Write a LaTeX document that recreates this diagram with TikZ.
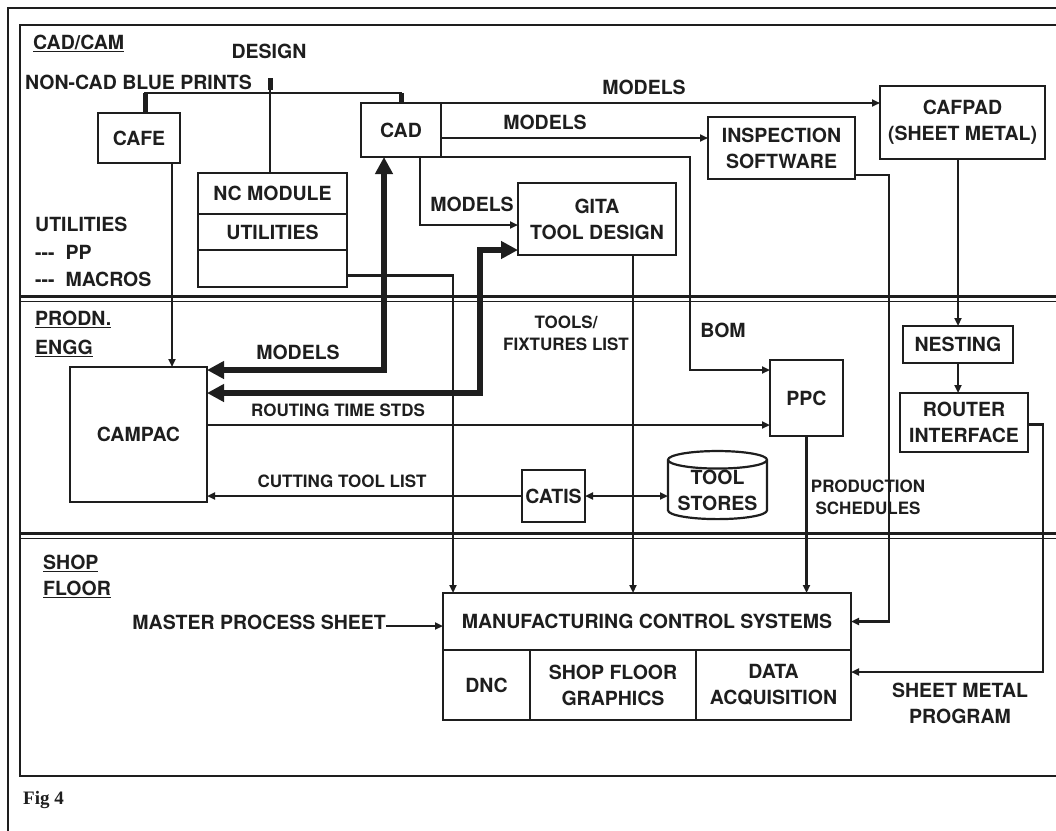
\documentclass[tikz,border=0pt]{standalone}
\usepackage{fontspec}
\setmainfont{TeX Gyre Heros}
\newfontfamily\capfont{Liberation Serif}
\usepackage{tikz}
\usetikzlibrary{arrows.meta,shapes.geometric,positioning}
\definecolor{ink}{HTML}{1E1E1E}
\tikzset{
  unitbox/.style={
    draw=ink,
    line width=2.2pt,
    inner sep=0pt,
    outer sep=0pt,
    align=center,
    text=ink,
    font=\bfseries\fontsize{19.5}{26}\selectfont
  },
  cellbox/.style={
    unitbox
  },
  flowlabel/.style={
    text=ink,
    inner sep=0pt,
    align=center,
    font=\bfseries\fontsize{19.5}{26}\selectfont
  },
  smalllabel/.style={
    flowlabel,
    font=\bfseries\fontsize{17}{22}\selectfont
  },
  lanelabel/.style={
    flowlabel,
    anchor=west,
    align=left
  },
  flowarrow/.style={
    -{Triangle[length=8pt,width=7pt]},
    line width=2.2pt,
    draw=ink
  },
  twoway/.style={
    {Triangle[length=8pt,width=7pt]}-{Triangle[length=8pt,width=7pt]},
    line width=2.2pt,
    draw=ink
  },
  heavyarrow/.style={
    {Triangle[length=17pt,width=17pt]}-{Triangle[length=17pt,width=17pt]},
    line width=5.5pt,
    draw=ink
  },
  plainline/.style={
    line width=2.2pt,
    draw=ink
  },
  stubline/.style={
    line width=5pt,
    draw=ink
  },
  frameline/.style={
    line width=2.6pt,
    draw=ink
  },
  laneline/.style={
    line width=3pt,
    draw=ink
  }
}

\begin{document}
\begin{tikzpicture}[x=1pt, y=-1pt]
    \clip (0,0) rectangle (1056,830);
    \fill[white] (0,0) rectangle (1056,830);

    % frames and lanes
    \draw[frameline] (8,840) -- (8,8) -- (1070,8);
    \draw[frameline] (1070,25) -- (20,25) -- (20,776) -- (1070,776);
    \draw[laneline] (20,296) -- (1070,296);
    \draw[line width=1.2pt, draw=ink] (20,301.5) -- (1070,301.5);
    \draw[laneline] (20,533) -- (1070,533);
    \draw[line width=1.2pt, draw=ink] (20,538.5) -- (1070,538.5);

    \node[lanelabel] (lanecad) at (33,43) {\underline{CAD/CAM}};
    \node[lanelabel] (laneprod) at (35,334) {\underline{PRODN.}\\[3pt]\underline{ENGG}};
    \node[lanelabel] (laneshop) at (43,576) {\underline{SHOP}\\\underline{FLOOR}};

    % CAD/CAM
    \node[unitbox, minimum width=82pt, minimum height=50pt] (cafe) at (139,138) {CAFE};
    \node[unitbox, minimum width=149pt, minimum height=41pt] (ncmod) at (272.5,193.5) {NC MODULE};
    \node[cellbox, anchor=north, minimum width=149pt, minimum height=36pt] (ncutil) at (ncmod.south) {UTILITIES};
    \node[cellbox, anchor=north, minimum width=149pt, minimum height=37pt] (ncspare) at (ncutil.south) {};
    \node[unitbox, minimum width=80pt, minimum height=54pt] (cad) at (401,130) {CAD};
    \node[unitbox, minimum width=158pt, minimum height=72pt] (gita) at (597,219) {GITA\\TOOL DESIGN};
    \node[unitbox, minimum width=147pt, minimum height=62pt] (insp) at (781.5,148) {INSPECTION\\SOFTWARE};
    \node[unitbox, minimum width=165pt, minimum height=73pt] (cafpad) at (962.5,122.5) {CAFPAD\\(SHEET METAL)};

    \node[flowlabel] (design) at (269,51) {DESIGN};
    \node[lanelabel] (blueprints) at (25,82) {NON-CAD BLUE PRINTS};
    \node[lanelabel, font=\bfseries\fontsize{19.5}{27.5}\selectfont] (utils) at (35,252) {UTILITIES\\-{}-{}-\ \ PP\\-{}-{}-\ \ MACROS};

    % PRODN. ENGG
    \node[unitbox, minimum width=137pt, minimum height=135pt] (campac) at (138.5,434.5) {CAMPAC};
    \node[unitbox, minimum width=73pt, minimum height=76pt] (ppc) at (806.5,398) {PPC};
    \node[unitbox, minimum width=63pt, minimum height=52pt] (catis) at (553.5,496) {CATIS};
    \node[unitbox, cylinder, shape border rotate=90, aspect=0.22, minimum width=99pt, minimum height=64pt] (stores) at (717.5,490) {TOOL\\STORES};
    \node[unitbox, minimum width=110pt, minimum height=37pt] (nesting) at (958,344.5) {NESTING};
    \node[unitbox, minimum width=128pt, minimum height=59pt] (router) at (964,422.5) {ROUTER\\INTERFACE};

    % SHOP FLOOR
    \node[flowlabel, anchor=east] (mps) at (386,622) {MASTER PROCESS SHEET};
    \node[unitbox, minimum width=408pt, minimum height=57pt] (mcs) at (647,621.5) {MANUFACTURING CONTROL SYSTEMS};
    \node[cellbox, anchor=north west, minimum width=87pt, minimum height=70pt] (dnc) at (mcs.south west) {DNC};
    \node[cellbox, anchor=north west, minimum width=166pt, minimum height=70pt] (sfg) at (dnc.north east) {SHOP FLOOR\\GRAPHICS};
    \node[cellbox, anchor=north west, minimum width=155pt, minimum height=70pt] (daq) at (sfg.north east) {DATA\\ACQUISITION};

    % labels on connectors
    \node[flowlabel] (modelsa) at (644,87) {MODELS};
    \node[flowlabel] (modelsb) at (545,122) {MODELS};
    \node[flowlabel] (modelsc) at (472,204) {MODELS};
    \node[flowlabel] (modelsd) at (298,352) {MODELS};
    \node[flowlabel] (bom) at (723,330) {BOM};
    \node[smalllabel] (toollist) at (566,333) {TOOLS/\\FIXTURES LIST};
    \node[smalllabel] (routing) at (338,410) {ROUTING TIME STDS};
    \node[smalllabel] (cutting) at (342,481) {CUTTING TOOL LIST};
    \node[smalllabel] (schedules) at (868,497) {PRODUCTION\\SCHEDULES};
    \node[flowlabel] (sheetprog) at (960,703) {SHEET METAL\\PROGRAM};

    \node[anchor=west, inner sep=0pt, text=ink, font=\capfont\bfseries\fontsize{19}{22}\selectfont] (figcap) at (23,800) {Fig 4};

    % design inputs
    \coordinate (designtap) at (270,78);
    \draw[plainline] (designtap) -- (designtap |- ncmod.north);
    \draw[stubline] (designtap) -- ++(0,12);
    \draw[plainline] ([xshift=6pt]cafe.north) -- ++(0,-20) -| (cad.north);
    \draw[stubline] ([xshift=6pt]cafe.north) -- ++(0,-20);
    \draw[stubline] (cad.north) -- ++(0,-10);

    % flows
    \draw[flowarrow] ([xshift=33pt]cafe.south) -- ([xshift=33pt]cafe.south |- campac.north);
    \draw[flowarrow] ([yshift=-7pt]ncspare.east) -| ([xshift=10pt]mcs.north west);
    \draw[flowarrow] ([xshift=19pt]cad.south) |- ([yshift=-6pt]gita.west);
    \draw[flowarrow] (cad.north east) -- (cad.north east -| cafpad.west);
    \draw[flowarrow] ([yshift=-8pt]cad.east) -- ([yshift=-8pt]cad.east -| insp.west);
    \draw[flowarrow] (cad.south east) -- ++(249,0) |- ([yshift=28pt]ppc.west);
    \draw[flowarrow] ([yshift=-27pt]insp.east) -- ++(34,0) |- (mcs.east);
    \draw[flowarrow] (nesting.north |- cafpad.south) -- (nesting.north);
    \draw[flowarrow] (nesting.south) -- (router.north -| nesting.south);
    \draw[flowarrow] ([yshift=-2pt]router.east) -- ++(15,0) |- ([yshift=13pt]daq.east);
    \draw[flowarrow] ([xshift=36pt]gita.south) -- ([xshift=36pt]gita.south |- mcs.north);
    \draw[flowarrow] (ppc.south) -- (ppc.south |- mcs.north);
    \draw[flowarrow] ([yshift=9.5pt]campac.east) -- ([yshift=9.5pt]campac.east -| ppc.west);
    \draw[flowarrow] (catis.west) -- (catis.west -| campac.east);
    \draw[twoway] (catis.east) -- (catis.east -| stores.west);
    \draw[flowarrow] ([yshift=-4pt]mps.east) -- ([yshift=-4pt]mps.east -| mcs.west);
    \draw[heavyarrow] ([yshift=-3pt]campac.north east) -| ([xshift=-17pt]cad.south);
    \draw[heavyarrow] ([yshift=-26pt]campac.north east) -| ([xshift=-38pt,yshift=-31pt]gita.west) -- ([yshift=-31pt]gita.west);
\end{tikzpicture}
\end{document}
